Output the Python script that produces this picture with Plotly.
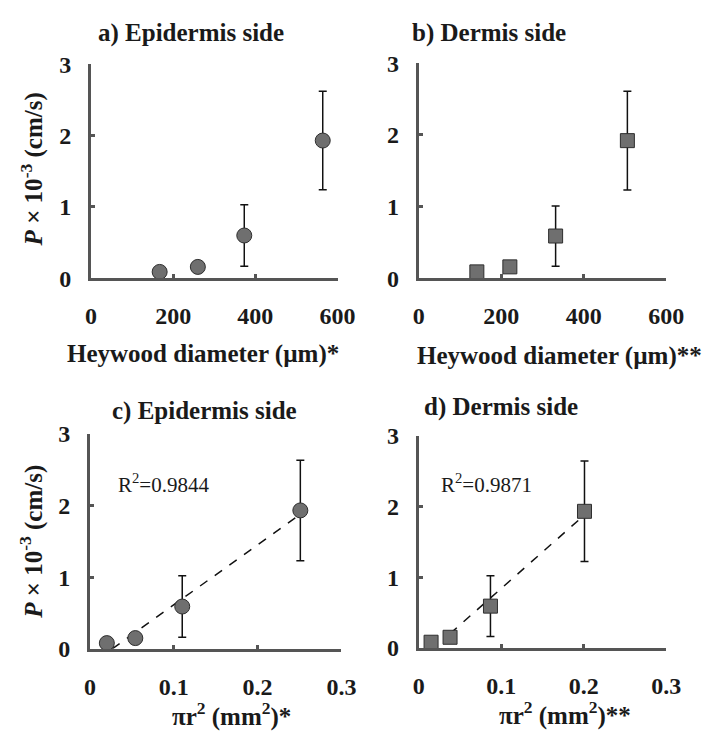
import numpy as np
import plotly.graph_objects as go

# ---------------- data ----------------
# a) Epidermis side, Heywood diameter (um) vs P x 10^-3 (cm/s)
a_x = [167, 260, 373, 564]
a_y = [0.09, 0.16, 0.60, 1.93]
a_err = [0.0, 0.0, 0.43, 0.69]
# b) Dermis side
b_x = [141, 221, 332, 506]
b_y = [0.09, 0.16, 0.59, 1.92]
b_err = [0.0, 0.0, 0.42, 0.69]
# c) Epidermis side, pi r^2 (mm^2)
c_x = [0.020, 0.054, 0.110, 0.251]
c_y = [0.08, 0.15, 0.59, 1.93]
c_err = [0.0, 0.0, 0.43, 0.70]
# d) Dermis side
d_x = [0.015, 0.038, 0.087, 0.201]
d_y = [0.08, 0.15, 0.59, 1.93]
d_err = [0.0, 0.0, 0.43, 0.71]

r2_c = "R<sup>2</sup>=0.9844"
r2_d = "R<sup>2</sup>=0.9871"

y_ticks = [0, 1, 2, 3]
x_ticks_top = [0, 200, 400, 600]
x_ticks_bot = [0, 0.1, 0.2, 0.3]
x_ticktext_bot = ["0", "0.1", "0.2", "0.3"]

titles = ["a) Epidermis side", "b) Dermis side", "c) Epidermis side", "d) Dermis side"]
xtitles = ["Heywood diameter (\u00b5m)*", "Heywood diameter (\u00b5m)**",
           "\u03c0r<sup>2</sup> (mm<sup>2</sup>)*", "\u03c0r<sup>2</sup> (mm<sup>2</sup>)**"]
ytitle = "<i>P</i> \u00d7 10<sup>-3</sup> (cm/s)"

W, H = 717, 740
SERIF = "Liberation Serif"
MARK_FILL = "#6f6f6f"
MARK_LINE = "#2e2e2e"
AXIS_COL = "#555555"
TXT = "#1a1a1a"

fig = go.Figure()

panels = [
    (a_x, a_y, a_err, "circle", "x", "y", None),
    (b_x, b_y, b_err, "square", "x2", "y2", None),
    (c_x, c_y, c_err, "circle", "x3", "y3", "root"),
    (d_x, d_y, d_err, "square", "x4", "y4", "second"),
]

for i, (xs, ys, es, sym, xa, ya, fit) in enumerate(panels):
    if fit:
        k, b0 = np.polyfit(xs, ys, 1)
        x0 = -b0 / k if fit == "root" else xs[1]
        x1 = xs[-1]
        fig.add_trace(go.Scatter(x=[x0, x1], y=[k * x0 + b0, k * x1 + b0], mode="lines",
                                 line=dict(color="#111111", width=1.5, dash="dash"),
                                 xaxis=xa, yaxis=ya, showlegend=False, hoverinfo="skip"))
    idx = [j for j, e in enumerate(es) if e > 0]
    fig.add_trace(go.Scatter(x=[xs[j] for j in idx], y=[ys[j] for j in idx], mode="markers",
                             marker=dict(size=1, opacity=0),
                             error_y=dict(type="data", array=[es[j] for j in idx], visible=True,
                                          color="#111111", thickness=1.5, width=4),
                             xaxis=xa, yaxis=ya, showlegend=False, hoverinfo="skip"))
    fig.add_trace(go.Scatter(x=xs, y=ys, mode="markers",
                             marker=dict(symbol=sym, size=15 if sym == "circle" else 14,
                                         color=MARK_FILL, line=dict(color=MARK_LINE, width=1)),
                             xaxis=xa, yaxis=ya, showlegend=False, cliponaxis=False))

def px_x(p):
    return p / W

def px_y(p):
    return 1 - p / H

doms = [
    ((88, 343), (53, 275)),
    ((427, 683), (52, 275)),
    ((87, 347), (436, 659)),
    ((427, 683), (438, 658)),
]

tickfont = dict(family=SERIF, size=24, color=TXT, weight="bold")
axis_common = dict(showline=True, linewidth=3, linecolor=AXIS_COL, showgrid=False, zeroline=False,
                   ticks="inside", ticklen=4, tickwidth=3, tickcolor=AXIS_COL, tickfont=tickfont,
                   mirror=False)

layout = dict(width=W, height=H, margin=dict(l=0, r=0, t=0, b=0),
              paper_bgcolor="white", plot_bgcolor="white", showlegend=False)

for i, ((xl, xr), (yt, yb)) in enumerate(doms):
    n = "" if i == 0 else str(i + 1)
    xdom = [px_x(xl), px_x(xr)]
    ydom = [px_y(yb), px_y(yt)]
    if i < 2:
        xr_ = [0, 600]
        xt = dict(tickvals=x_ticks_top, ticktext=[str(v) for v in x_ticks_top])
    else:
        xr_ = [0, 0.3]
        xt = dict(tickvals=x_ticks_bot, ticktext=x_ticktext_bot)
    layout["xaxis" + n] = dict(axis_common, domain=xdom, range=xr_, anchor="y" + n,
                               ticklabelstandoff=14, **xt)
    layout["yaxis" + n] = dict(axis_common, domain=ydom, range=[0, 3], anchor="x" + n,
                               tickvals=y_ticks, ticktext=[str(v) for v in y_ticks],
                               ticklabelstandoff=12)

fig.update_layout(**layout)

bold_font = dict(family=SERIF, size=25, color=TXT, weight="bold")
ann = []
title_pos = [(191, 21), (500, 21), (205, 413), (512, 408)]
for t, (x, y) in zip(titles, title_pos):
    ann.append(dict(text=t, x=px_x(x), y=px_y(y), xref="paper", yref="paper",
                    xanchor="center", yanchor="middle", showarrow=False, font=bold_font))
xt_pos = [(204, 353), (573, 356), (233, 727), (578, 726)]
for t, (x, y) in zip(xtitles, xt_pos):
    ann.append(dict(text=t, x=px_x(x), y=px_y(y), xref="paper", yref="paper",
                    xanchor="center", yanchor="middle", showarrow=False, font=bold_font))
for yc in (162, 548):
    ann.append(dict(text=ytitle, x=px_x(27), y=px_y(yc), xref="paper", yref="paper",
                    xanchor="center", yanchor="middle", showarrow=False, textangle=-90,
                    font=bold_font))
for t, (x, y) in zip([r2_c, r2_d], [(163, 488), (497, 488)]):
    ann.append(dict(text=t, x=px_x(x), y=px_y(y), xref="paper", yref="paper",
                    xanchor="center", yanchor="middle", showarrow=False,
                    font=dict(family=SERIF, size=21, color=TXT)))
fig.update_layout(annotations=ann)

fig.write_html("out.html")
